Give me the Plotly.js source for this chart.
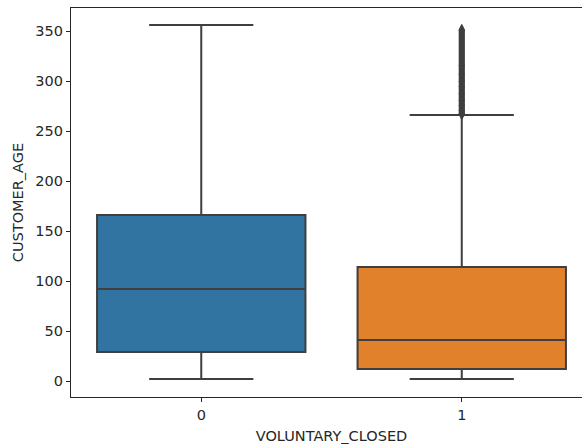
<!DOCTYPE html>
<html>
<head>
<meta charset="utf-8">
<script src="https://cdn.plot.ly/plotly-3.0.1.min.js"></script>
<style>html,body{margin:0;padding:0;overflow:hidden;background:#fff;}</style>
</head>
<body>
<div id="chart"></div>
<script>
const categories = [0, 1];
const tickLabels = ['0', '1'];
const colors = ['#3274a1', '#e1812c'];
const q1 = [29, 12];
const median = [92, 41];
const q3 = [166, 114];
const lowerFence = [2, 2];
const upperFence = [356, 266];
const outliers1 = [267, 268, 270, 271, 273, 275, 276, 278, 280, 281, 283, 285, 287, 288, 290, 292, 294, 295, 297, 299, 300, 302, 304, 306, 307, 309, 311, 313, 315, 316, 318, 320, 322, 324, 326, 328, 330, 332, 334, 336, 338, 340, 342, 344, 346, 348, 350, 351];

const traces = categories.map((c, i) => ({
  type: 'box',
  x: [c],
  q1: [q1[i]],
  median: [median[i]],
  q3: [q3[i]],
  lowerfence: [lowerFence[i]],
  upperfence: [upperFence[i]],
  width: 0.8,
  whiskerwidth: 0.5,
  fillcolor: colors[i],
  line: {color: '#3f3f3f', width: 2},
  boxpoints: false,
  hoverinfo: 'skip',
  showlegend: false
}));

traces.push({
  type: 'scatter',
  mode: 'markers',
  x: outliers1.map(() => categories[1]),
  y: outliers1,
  marker: {symbol: 'diamond-tall', size: 8, color: '#3f3f3f', line: {color: '#3f3f3f', width: 1}},
  hoverinfo: 'skip',
  showlegend: false
});

const font = {family: 'DejaVu Sans', size: 14.5, color: '#262626'};
const layout = {
  width: 600,
  height: 446,
  margin: {l: 70.7, r: 8, t: 8, b: 49},
  paper_bgcolor: '#fff',
  plot_bgcolor: '#fff',
  boxmode: 'overlay',
  font: font,
  xaxis: {
    range: [-0.5, 1.5],
    tickvals: categories,
    ticktext: tickLabels,
    showgrid: false,
    zeroline: false,
    showline: true,
    mirror: true,
    linecolor: '#262626',
    linewidth: 1.2,
    ticks: 'outside',
    ticklen: 4,
    tickcolor: '#262626',
    tickfont: font,
    title: {text: 'VOLUNTARY_CLOSED', font: font, standoff: 9}
  },
  yaxis: {
    range: [-16, 373],
    tickvals: [0, 50, 100, 150, 200, 250, 300, 350],
    showgrid: false,
    zeroline: false,
    showline: true,
    mirror: false,
    linecolor: '#262626',
    linewidth: 1.2,
    ticks: 'outside',
    ticklen: 4,
    tickcolor: '#262626',
    tickfont: font,
    title: {text: 'CUSTOMER_AGE', font: font, standoff: 8}
  }
};

Plotly.newPlot('chart', traces, layout, {displayModeBar: false, staticPlot: true});
</script>
</body>
</html>
